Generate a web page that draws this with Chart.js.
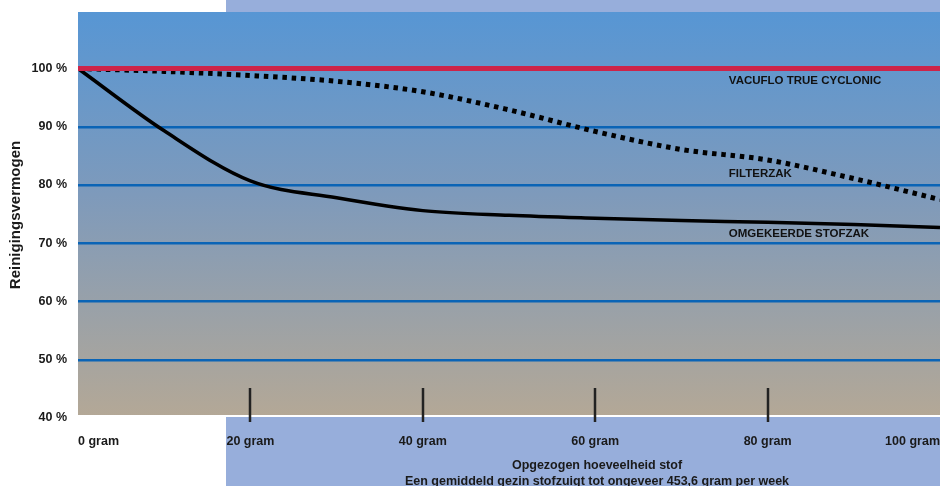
<!DOCTYPE html>
<html>
<head>
<meta charset="utf-8">
<script src="https://cdn.jsdelivr.net/npm/chart.js@4.4.0/dist/chart.umd.min.js"></script>
<style>
  html, body { margin: 0; padding: 0; background: #fff; }
  #wrap { width: 940px; height: 486px; position: relative; }
</style>
</head>
<body>
<div id="wrap"><canvas id="chart"></canvas></div>
<script>
// Data
const grams = [0, 10, 20, 30, 40, 50, 60, 70, 80, 90, 100];
const vacuflo = [100, 100, 100, 100, 100, 100, 100, 100, 100, 100, 100];
const filterzak = [100, 99.5, 98.8, 97.8, 96.0, 92.9, 89.2, 86.1, 84.3, 81.1, 77.5];
const stofzak = [100, 89.3, 80.7, 77.8, 75.6, 74.8, 74.3, 73.9, 73.6, 73.2, 72.7];
const seriesNames = ['VACUFLO TRUE CYCLONIC', 'FILTERZAK', 'OMGEKEERDE STOFZAK'];
const xTitle = ['Opgezogen hoeveelheid stof', 'Een gemiddeld gezin stofzuigt tot ongeveer 453,6 gram per week'];
const yTitle = 'Reinigingsvermogen';

const FONT = '"Liberation Sans", Arial, sans-serif';
const toPoints = arr => arr.map((v, i) => ({ x: grams[i], y: v }));

// background, gradient plot area, tick marks, series labels, x title
const decor = {
    id: 'decor',
    beforeDraw(chart) {
        const { ctx, chartArea: a } = chart;
        ctx.save();
        ctx.fillStyle = '#ffffff';
        ctx.fillRect(0, 0, chart.width, chart.height);
        ctx.fillStyle = '#97aedb';
        ctx.fillRect(226, 0, chart.width - 226, chart.height);
        const g = ctx.createLinearGradient(0, a.top, 0, a.bottom);
        g.addColorStop(0, '#5796d4');
        g.addColorStop(0.45, '#7e9abb');
        g.addColorStop(1, '#b4a896');
        ctx.fillStyle = g;
        ctx.fillRect(a.left, a.top, a.right - a.left, a.bottom - a.top - 3);
        ctx.fillStyle = '#ffffff';
        ctx.fillRect(a.left, a.bottom - 3, a.right - a.left, 2);
        ctx.restore();
    },
    afterDraw(chart) {
        const { ctx, chartArea: a, scales } = chart;
        const xs = scales.x, ys = scales.y;
        ctx.save();
        // tick marks at inner x ticks
        ctx.strokeStyle = '#222';
        ctx.lineWidth = 2.5;
        xs.ticks.forEach((t, i) => {
            if (i === 0 || i === xs.ticks.length - 1) return;
            const px = Math.round(xs.getPixelForValue(t.value));
            ctx.beginPath();
            ctx.moveTo(px, a.bottom - 30);
            ctx.lineTo(px, a.bottom + 4);
            ctx.stroke();
        });
        // series labels
        ctx.fillStyle = '#111';
        ctx.font = 'bold 11.5px ' + FONT;
        ctx.textAlign = 'left';
        ctx.textBaseline = 'middle';
        const lx = xs.getPixelForValue(75.5);
        ctx.fillText(seriesNames[0], lx, ys.getPixelForValue(100) + 12);
        ctx.fillText(seriesNames[1], lx, ys.getPixelForValue(84.3) + 14);
        ctx.fillText(seriesNames[2], lx, ys.getPixelForValue(73.6) + 12);
        // x title
        ctx.fillStyle = '#1a1a1a';
        ctx.font = 'bold 12.5px ' + FONT;
        ctx.textAlign = 'center';
        ctx.fillText(xTitle[0], 597, 466);
        ctx.fillText(xTitle[1], 597, 482);
        ctx.restore();
    }
};

const ctx = document.getElementById('chart').getContext('2d');
const chart = new Chart(ctx, {
    type: 'line',
    data: {
        datasets: [
            {
                label: seriesNames[0],
                data: toPoints(vacuflo),
                borderColor: '#cc2449',
                borderWidth: 5,
                pointRadius: 0,
            },
            {
                label: seriesNames[1],
                data: toPoints(filterzak),
                borderColor: '#000',
                borderWidth: 5,
                borderDash: [4.5, 4.8],
                borderCapStyle: 'butt',
                cubicInterpolationMode: 'monotone',
                pointRadius: 0,
            },
            {
                label: seriesNames[2],
                data: toPoints(stofzak),
                borderColor: '#000',
                borderWidth: 3.5,
                cubicInterpolationMode: 'monotone',
                pointRadius: 0,
            },
        ],
    },
    options: {
        responsive: true,
        maintainAspectRatio: false,
        animation: false,
        layout: { padding: { top: 12, left: 0, right: 0, bottom: 0 } },
        plugins: { legend: { display: false }, tooltip: { enabled: false } },
        scales: {
            x: {
                type: 'linear',
                min: 0,
                max: 100,
                grid: { display: false },
                border: { display: false },
                ticks: {
                    stepSize: 20,
                    align: 'inner',
                    padding: 8,
                    color: '#1a1a1a',
                    font: { family: FONT, size: 12.5, weight: 'bold' },
                    callback: v => v + ' gram',
                },
                afterFit(scale) {
                    scale.height = 68;
                    scale.paddingLeft = 0;
                    scale.paddingRight = 0;
                },
            },
            y: {
                min: 40,
                max: 109.7,
                grid: {
                    drawTicks: false,
                    lineWidth: 2.5,
                    color: c => (c.tick && (c.tick.value === 40 || c.tick.value === 100)) ? 'rgba(0,0,0,0)' : '#0a64b6',
                },
                border: { display: false },
                ticks: {
                    stepSize: 10,
                    includeBounds: false,
                    padding: 11,
                    color: '#1a1a1a',
                    font: { family: FONT, size: 12.5, weight: 'bold' },
                    callback: v => v + ' %',
                },
                title: {
                    display: true,
                    text: yTitle,
                    color: '#1a1a1a',
                    font: { family: FONT, size: 15, weight: 'bold' },
                    padding: { top: 7, bottom: 0 },
                },
                afterFit(scale) {
                    scale.width = 78;
                    scale.paddingTop = 0;
                    scale.paddingBottom = 0;
                },
            },
        },
    },
    plugins: [decor],
});
</script>
</body>
</html>
